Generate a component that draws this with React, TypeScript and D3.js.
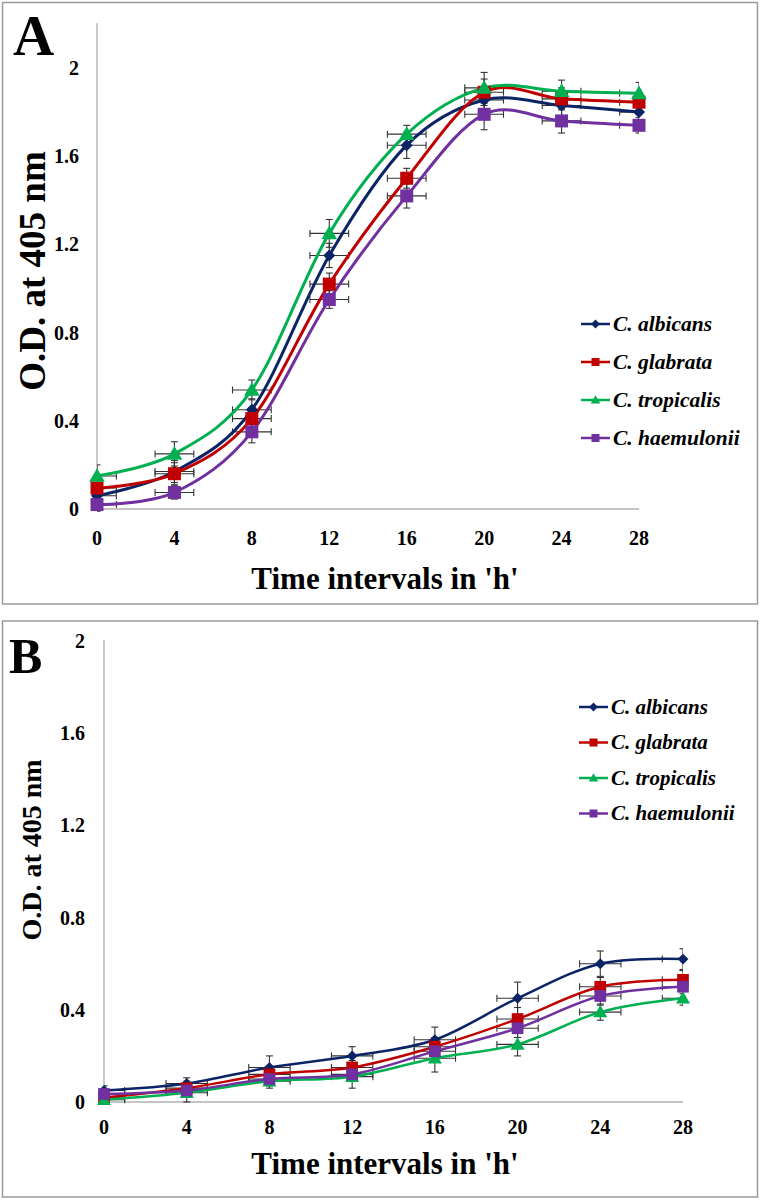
import React from "react";
import * as d3 from "d3";

const hours = [0, 4, 8, 12, 16, 20, 24, 28];
const seriesNames = ["C. albicans", "C. glabrata", "C. tropicalis", "C. haemulonii"];
const seriesColors = ["#0A2466", "#C00000", "#00B050", "#7030A0"];
const seriesMarkers = ["diamond", "square", "triangle", "square"];
const yTicks = [0, 0.4, 0.8, 1.2, 1.6, 2];

// Panel A values (O.D. at 405 nm)
const aAlbicans = [0.06, 0.17, 0.45, 1.15, 1.65, 1.855, 1.83, 1.8];
const aGlabrata = [0.095, 0.16, 0.41, 1.02, 1.5, 1.89, 1.86, 1.845];
const aTropicalis = [0.15, 0.25, 0.54, 1.25, 1.7, 1.91, 1.895, 1.885];
const aHaemulonii = [0.02, 0.075, 0.35, 0.95, 1.42, 1.79, 1.76, 1.74];
const aErrAlbicans = [0.04, 0.05, 0.05, 0.055, 0.06, 0.05, 0.05, 0.04];
const aErrGlabrata = [0.04, 0.05, 0.05, 0.05, 0.045, 0.06, 0.05, 0.04];
const aErrTropicalis = [0.05, 0.055, 0.045, 0.063, 0.04, 0.07, 0.05, 0.05];
const aErrHaemulonii = [0.03, 0.03, 0.05, 0.04, 0.055, 0.07, 0.055, 0.035];

// Panel B values (O.D. at 405 nm)
const bAlbicans = [0.05, 0.08, 0.15, 0.2, 0.27, 0.45, 0.6, 0.62];
const bGlabrata = [0.02, 0.06, 0.12, 0.15, 0.24, 0.36, 0.5, 0.53];
const bTropicalis = [0.01, 0.04, 0.09, 0.11, 0.19, 0.25, 0.39, 0.45];
const bHaemulonii = [0.035, 0.05, 0.1, 0.12, 0.22, 0.32, 0.46, 0.5];
const bErrAlbicans = [0.02, 0.025, 0.05, 0.04, 0.055, 0.07, 0.055, 0.045];
const bErrGlabrata = [0.02, 0.03, 0.03, 0.03, 0.04, 0.05, 0.04, 0.04];
const bErrTropicalis = [0.02, 0.04, 0.03, 0.05, 0.06, 0.05, 0.035, 0.03];
const bErrHaemulonii = [0.02, 0.03, 0.03, 0.03, 0.04, 0.04, 0.04, 0.03];

const xErr = 1; // hours

const FONT = "'Liberation Serif', 'Times New Roman', serif";

type PanelCfg = {
  letter: string;
  box: [number, number, number, number];
  x0: number;
  x1: number;
  yZero: number;
  yTwo: number;
  axisTop: number;
  letterX: number;
  letterY: number;
  letterSize: number;
  tickRight: number;
  xTickY: number;
  xTitleY: number;
  xTitleSize: number;
  yTitleX: number;
  yTitleY: number;
  yTitleSize: number;
  legendX: number;
  legendY: number;
  legendGap: number;
  legendFont: number;
  lineW: number;
  mScale: number;
  values: number[][];
  errs: number[][];
};

function Marker({ kind, x, y, color, s }: { kind: string; x: number; y: number; color: string; s: number }) {
  if (kind === "diamond") {
    const r = s * 0.55;
    return <path d={`M${x},${y - r}L${x + r},${y}L${x},${y + r}L${x - r},${y}Z`} fill={color} />;
  }
  if (kind === "triangle") {
    const r = s * 0.6;
    return <path d={`M${x},${y - r}L${x + r},${y + r * 0.75}L${x - r},${y + r * 0.75}Z`} fill={color} />;
  }
  const h = s / 2;
  return <rect x={x - h} y={y - h} width={s} height={s} fill={color} />;
}

function Panel({ cfg }: { cfg: PanelCfg }) {
  const x = d3.scaleLinear().domain([0, 28]).range([cfg.x0, cfg.x1]);
  const y = d3.scaleLinear().domain([0, 2]).range([cfg.yZero, cfg.yTwo]);
  const line = d3
    .line<number>()
    .x((_, i) => x(hours[i]))
    .y((d) => y(d))
    .curve(d3.curveCatmullRom.alpha(0));
  const clipId = "clip" + cfg.letter;
  const [bx, by, bw, bh] = cfg.box;
  const cap = 3.5;
  const order = [0, 1, 2, 3];
  return (
    <g>
      <rect x={bx} y={by} width={bw} height={bh} fill="#fff" stroke="#9a9a9a" strokeWidth={1.5} />
      <defs>
        <clipPath id={clipId}>
          <rect x={cfg.x0} y={cfg.axisTop - 30} width={cfg.x1 - cfg.x0} height={cfg.yZero - cfg.axisTop + 60} />
        </clipPath>
      </defs>
      <text x={cfg.letterX} y={cfg.letterY} fontFamily={FONT} fontWeight="bold" fontSize={cfg.letterSize}>
        {cfg.letter}
      </text>
      {/* axes */}
      <line x1={cfg.x0} x2={cfg.x0} y1={cfg.axisTop} y2={cfg.yZero} stroke="#a6a6a6" strokeWidth={1.2} />
      <line x1={cfg.x0} x2={cfg.x1} y1={cfg.yZero} y2={cfg.yZero} stroke="#b0b0b0" strokeWidth={1.5} />
      {yTicks.map((t) => (
        <text
          key={"yt" + t}
          x={cfg.tickRight}
          y={y(t)}
          dy="0.35em"
          textAnchor="end"
          fontFamily={FONT}
          fontWeight="bold"
          fontSize={20}
        >
          {t === 0 || t === 2 ? String(t) : t.toFixed(1)}
        </text>
      ))}
      {hours.map((h) => (
        <text
          key={"xt" + h}
          x={x(h)}
          y={cfg.xTickY}
          textAnchor="middle"
          fontFamily={FONT}
          fontWeight="bold"
          fontSize={20}
        >
          {h}
        </text>
      ))}
      <text
        x={385}
        y={cfg.xTitleY}
        textAnchor="middle"
        fontFamily={FONT}
        fontWeight="bold"
        fontSize={cfg.xTitleSize}
      >
        Time intervals in 'h'
      </text>
      <text
        transform={`translate(${cfg.yTitleX},${cfg.yTitleY}) rotate(-90)`}
        textAnchor="middle"
        fontFamily={FONT}
        fontWeight="bold"
        fontSize={cfg.yTitleSize}
      >
        O.D. at 405 nm
      </text>
      {/* error bars */}
      <g clipPath={`url(#${clipId})`} stroke="#333" strokeWidth={1.1}>
        {order.map((si) =>
          cfg.values[si].map((v, i) => {
            const cx = x(hours[i]);
            const cy = y(v);
            const e = cfg.errs[si][i];
            const xl = x(hours[i] - xErr);
            const xr = x(hours[i] + xErr);
            return (
              <g key={`e${si}-${i}`}>
                <line x1={cx} x2={cx} y1={y(v + e)} y2={y(v - e)} />
                <line x1={cx - cap} x2={cx + cap} y1={y(v + e)} y2={y(v + e)} />
                <line x1={cx - cap} x2={cx + cap} y1={y(v - e)} y2={y(v - e)} />
                <line x1={xl} x2={xr} y1={cy} y2={cy} />
                <line x1={xl} x2={xl} y1={cy - cap} y2={cy + cap} />
                <line x1={xr} x2={xr} y1={cy - cap} y2={cy + cap} />
              </g>
            );
          })
        )}
      </g>
      {/* lines */}
      {order.map((si) => (
        <path
          key={"l" + si}
          d={line(cfg.values[si]) || ""}
          fill="none"
          stroke={seriesColors[si]}
          strokeWidth={cfg.lineW}
        />
      ))}
      {order.map((si) =>
        cfg.values[si].map((v, i) => (
          <Marker
            key={`m${si}-${i}`}
            kind={seriesMarkers[si]}
            x={x(hours[i])}
            y={y(v)}
            color={seriesColors[si]}
            s={(seriesMarkers[si] === "diamond" ? 11 : 13) * cfg.mScale}
          />
        ))
      )}
      {/* legend */}
      {seriesNames.map((n, si) => {
        const ly = cfg.legendY + si * cfg.legendGap;
        return (
          <g key={"lg" + si}>
            <line
              x1={cfg.legendX}
              x2={cfg.legendX + 29}
              y1={ly}
              y2={ly}
              stroke={seriesColors[si]}
              strokeWidth={2.5}
            />
            <Marker
              kind={seriesMarkers[si]}
              x={cfg.legendX + 14.5}
              y={ly}
              color={seriesColors[si]}
              s={8}
            />
            <text
              x={cfg.legendX + 32}
              y={ly}
              dy="0.33em"
              fontFamily={FONT}
              fontWeight="bold"
              fontStyle="italic"
              fontSize={cfg.legendFont}
            >
              {n}
            </text>
          </g>
        );
      })}
    </g>
  );
}

const panelA: PanelCfg = {
  letter: "A",
  box: [2.5, 2.5, 755, 601.5],
  x0: 97,
  x1: 639,
  yZero: 509,
  yTwo: 68,
  axisTop: 23,
  letterX: 13,
  letterY: 55,
  letterSize: 57,
  tickRight: 79,
  xTickY: 545,
  xTitleY: 589,
  xTitleSize: 31,
  yTitleX: 45,
  yTitleY: 271,
  yTitleSize: 37,
  legendX: 581,
  legendY: 324,
  legendGap: 38,
  legendFont: 21.5,
  lineW: 3,
  mScale: 1,
  values: [aAlbicans, aGlabrata, aTropicalis, aHaemulonii],
  errs: [aErrAlbicans, aErrGlabrata, aErrTropicalis, aErrHaemulonii],
};

const panelB: PanelCfg = {
  letter: "B",
  box: [2.5, 621, 755, 576],
  x0: 104,
  x1: 683,
  yZero: 1102,
  yTwo: 641,
  axisTop: 640,
  letterX: 9,
  letterY: 673,
  letterSize: 50,
  tickRight: 85,
  xTickY: 1134,
  xTitleY: 1174,
  xTitleSize: 31,
  yTitleX: 41,
  yTitleY: 850,
  yTitleSize: 28,
  legendX: 579,
  legendY: 707,
  legendGap: 35.5,
  legendFont: 21,
  lineW: 2.5,
  mScale: 0.9,
  values: [bAlbicans, bGlabrata, bTropicalis, bHaemulonii],
  errs: [bErrAlbicans, bErrGlabrata, bErrTropicalis, bErrHaemulonii],
};

export default function App() {
  return (
    <svg
      width={762}
      height={1200}
      style={{ position: "absolute", left: 0, top: 0, background: "#fff" }}
    >
      <Panel cfg={panelA} />
      <Panel cfg={panelB} />
    </svg>
  );
}
